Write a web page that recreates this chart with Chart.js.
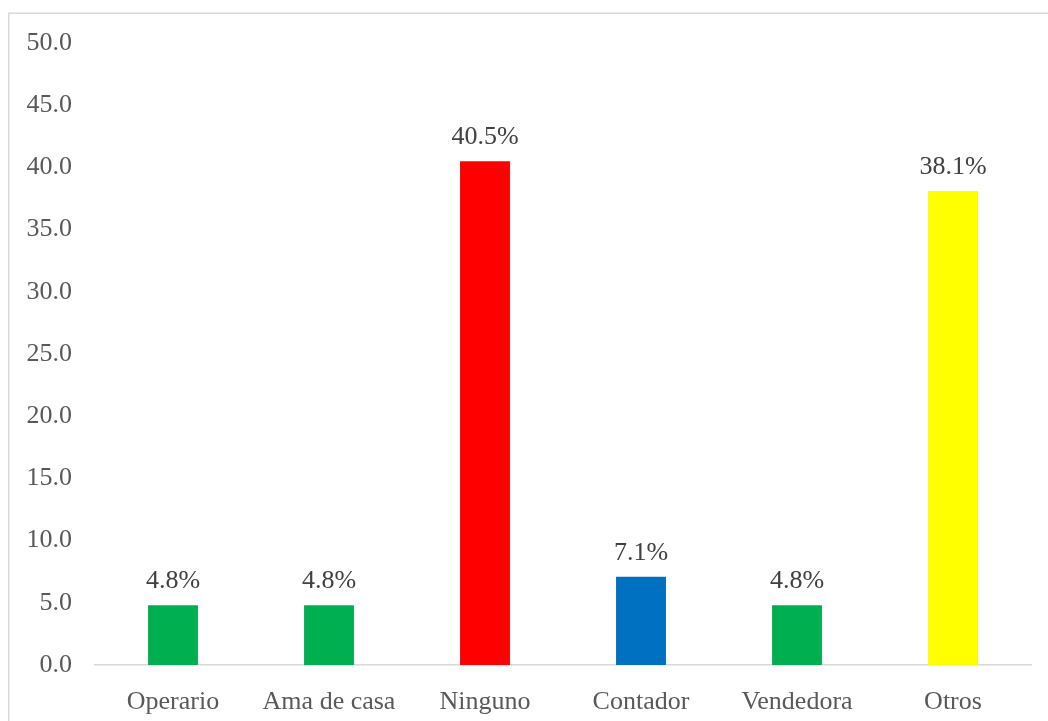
<!DOCTYPE html>
<html>
<head>
<meta charset="utf-8">
<script src="https://cdn.jsdelivr.net/npm/chart.js@4/dist/chart.umd.min.js"></script>
<style>
html,body{margin:0;padding:0;background:#fff;}
#wrap{position:relative;width:1048px;height:721px;}
</style>
</head>
<body>
<div id="wrap"><canvas id="c" width="1048" height="721"></canvas></div>
<script>
const categories = ["Operario", "Ama de casa", "Ninguno", "Contador", "Vendedora", "Otros"];
const values = [4.8, 4.8, 40.5, 7.1, 4.8, 38.1];
const barColors = ["#00B050", "#00B050", "#FF0000", "#0070C0", "#00B050", "#FFFF00"];
const yTicks = [0, 5, 10, 15, 20, 25, 30, 35, 40, 45, 50];

const FONT = "'Liberation Serif', 'Times New Roman', serif";

const frame = {
  id: 'frame',
  beforeDraw(chart) {
    const ctx = chart.ctx;
    ctx.save();
    ctx.fillStyle = '#fff';
    ctx.fillRect(0, 0, chart.width, chart.height);
    ctx.strokeStyle = '#d9d9d9';
    ctx.lineWidth = 1.5;
    ctx.strokeRect(8.75, 13.25, 1060, 740);
    ctx.restore();
  }
};

const dataLabels = {
  id: 'dataLabels',
  afterDatasetsDraw(chart) {
    const ctx = chart.ctx;
    const meta = chart.getDatasetMeta(0);
    ctx.save();
    ctx.font = '26px ' + FONT;
    ctx.fillStyle = '#404040';
    ctx.textAlign = 'center';
    ctx.textBaseline = 'alphabetic';
    meta.data.forEach((bar, i) => {
      ctx.fillText(values[i].toFixed(1) + '%', bar.x, bar.y - 17);
    });
    ctx.restore();
  }
};

new Chart(document.getElementById('c'), {
  type: 'bar',
  data: {
    labels: categories,
    datasets: [{
      data: values,
      backgroundColor: barColors,
      borderWidth: 0,
      categoryPercentage: 1,
      barPercentage: 0.32
    }]
  },
  options: {
    responsive: false,
    animation: false,
    devicePixelRatio: 1,
    layout: { padding: { top: 43, right: 17, left: 0, bottom: 0 } },
    plugins: { legend: { display: false }, tooltip: { enabled: false } },
    scales: {
      x: {
        grid: { display: false },
        border: { display: true, color: '#d9d9d9', width: 1.5 },
        ticks: { color: '#595959', font: { family: FONT, size: 26 }, padding: 14, maxRotation: 0, autoSkip: false },
        afterFit(scale) { scale.height = 56; }
      },
      y: {
        min: 0, max: 50,
        grid: { display: false, tickLength: 0 },
        border: { display: false },
        afterBuildTicks(scale) { scale.ticks = yTicks.map(v => ({ value: v })); },
        ticks: {
          color: '#595959', font: { family: FONT, size: 26 }, padding: 23,
          callback: v => Number(v).toFixed(1)
        },
        afterFit(scale) { scale.width = 95; }
      }
    }
  },
  plugins: [frame, dataLabels]
});
</script>
</body>
</html>
